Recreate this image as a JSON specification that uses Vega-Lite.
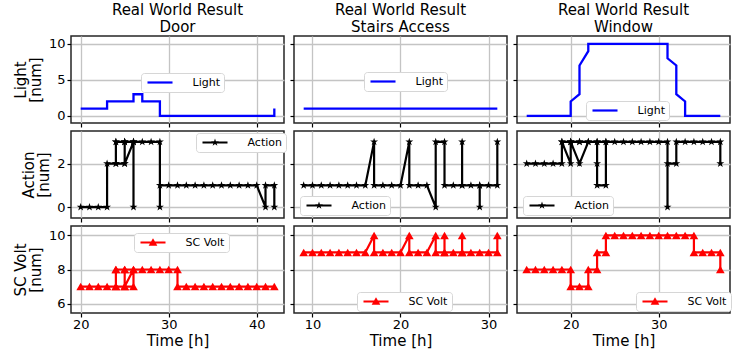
{
"$schema":"https://vega.github.io/schema/vega-lite/v6.json",
"padding":{"left":12,"top":2,"right":5,"bottom":2},
"background":"white",
"columns":3,
"spacing":{"row":8,"column":10},
"bounds":"flush",
"resolve":{"scale":{"color":"independent","x":"independent","y":"independent"},"legend":{"color":"independent"}},
"config":{
 "font":"DejaVu Sans",
 "view":{"stroke":"#262626","strokeWidth":1.5},
 "axis":{"labelFont":"DejaVu Sans","labelFontSize":13,"labelColor":"#000","tickColor":"#000","tickSize":4,"tickWidth":1.2,"domain":false,"grid":true,"gridColor":"#c4c4c4","gridWidth":1.3,"titleFont":"DejaVu Sans","titleFontSize":15,"titleFontWeight":"normal","titleColor":"#000","labelPadding":2},
 "axisY":{"titlePadding":5,"titleLineHeight":15},
 "axisX":{"titlePadding":2,"labelPadding":1},
 "legend":{"labelFont":"DejaVu Sans","labelFontSize":11,"labelColor":"#000","fillColor":"#ffffff","strokeColor":"#d6d6d6","cornerRadius":3,"padding":4},
 "title":{"font":"DejaVu Sans","fontSize":15,"fontWeight":"normal","lineHeight":17,"offset":1,"baseline":"alphabetic","color":"#000"}
},
"datasets":{
 "lightDoor":[{"t":20,"v":1,"s":0},{"t":21,"v":1,"s":1},{"t":22,"v":1,"s":2},{"t":23,"v":1,"s":3},{"t":23,"v":2,"s":4},{"t":24,"v":2,"s":5},{"t":25,"v":2,"s":6},{"t":26,"v":2,"s":7},{"t":26,"v":3,"s":8},{"t":27,"v":3,"s":9},{"t":27,"v":2,"s":10},{"t":28,"v":2,"s":11},{"t":29,"v":2,"s":12},{"t":29,"v":0,"s":13},{"t":30,"v":0,"s":14},{"t":31,"v":0,"s":15},{"t":32,"v":0,"s":16},{"t":33,"v":0,"s":17},{"t":34,"v":0,"s":18},{"t":35,"v":0,"s":19},{"t":36,"v":0,"s":20},{"t":37,"v":0,"s":21},{"t":38,"v":0,"s":22},{"t":39,"v":0,"s":23},{"t":40,"v":0,"s":24},{"t":41,"v":0,"s":25},{"t":42,"v":0,"s":26},{"t":42,"v":1,"s":27}],
 "lightStairs":[{"t":9,"v":1,"s":0},{"t":10,"v":1,"s":1},{"t":11,"v":1,"s":2},{"t":12,"v":1,"s":3},{"t":13,"v":1,"s":4},{"t":14,"v":1,"s":5},{"t":15,"v":1,"s":6},{"t":16,"v":1,"s":7},{"t":17,"v":1,"s":8},{"t":18,"v":1,"s":9},{"t":19,"v":1,"s":10},{"t":20,"v":1,"s":11},{"t":21,"v":1,"s":12},{"t":22,"v":1,"s":13},{"t":23,"v":1,"s":14},{"t":24,"v":1,"s":15},{"t":25,"v":1,"s":16},{"t":26,"v":1,"s":17},{"t":27,"v":1,"s":18},{"t":28,"v":1,"s":19},{"t":29,"v":1,"s":20},{"t":30,"v":1,"s":21},{"t":31,"v":1,"s":22}],
 "lightWindow":[{"t":15,"v":0,"s":0},{"t":16,"v":0,"s":1},{"t":17,"v":0,"s":2},{"t":18,"v":0,"s":3},{"t":19,"v":0,"s":4},{"t":20,"v":0,"s":5},{"t":20,"v":2,"s":6},{"t":21,"v":3,"s":7},{"t":21,"v":7,"s":8},{"t":22,"v":9,"s":9},{"t":22,"v":10,"s":10},{"t":23,"v":10,"s":11},{"t":24,"v":10,"s":12},{"t":25,"v":10,"s":13},{"t":26,"v":10,"s":14},{"t":27,"v":10,"s":15},{"t":28,"v":10,"s":16},{"t":29,"v":10,"s":17},{"t":30,"v":10,"s":18},{"t":31,"v":10,"s":19},{"t":31,"v":8,"s":20},{"t":32,"v":7,"s":21},{"t":32,"v":3,"s":22},{"t":33,"v":2,"s":23},{"t":33,"v":0,"s":24},{"t":34,"v":0,"s":25},{"t":35,"v":0,"s":26},{"t":36,"v":0,"s":27},{"t":37,"v":0,"s":28}],
 "actionDoor":[{"t":20,"v":0,"s":0},{"t":21,"v":0,"s":1},{"t":22,"v":0,"s":2},{"t":23,"v":0,"s":3},{"t":23,"v":2,"s":4},{"t":24,"v":2,"s":5},{"t":25,"v":2,"s":6},{"t":26,"v":3,"s":7},{"t":26,"v":0,"s":8},{"t":26,"v":3,"s":9},{"t":25,"v":3,"s":10},{"t":25,"v":2,"s":11},{"t":25,"v":3,"s":12},{"t":24,"v":3,"s":13},{"t":24,"v":2,"s":14},{"t":24,"v":3,"s":15},{"t":25,"v":3,"s":16},{"t":26,"v":3,"s":17},{"t":27,"v":3,"s":18},{"t":28,"v":3,"s":19},{"t":29,"v":3,"s":20},{"t":29,"v":0,"s":21},{"t":29,"v":1,"s":22},{"t":30,"v":1,"s":23},{"t":31,"v":1,"s":24},{"t":32,"v":1,"s":25},{"t":33,"v":1,"s":26},{"t":34,"v":1,"s":27},{"t":35,"v":1,"s":28},{"t":36,"v":1,"s":29},{"t":37,"v":1,"s":30},{"t":38,"v":1,"s":31},{"t":39,"v":1,"s":32},{"t":40,"v":1,"s":33},{"t":41,"v":0,"s":34},{"t":41,"v":1,"s":35},{"t":42,"v":1,"s":36},{"t":42,"v":0,"s":37}],
 "actionStairs":[{"t":9,"v":1,"s":0},{"t":10,"v":1,"s":1},{"t":11,"v":1,"s":2},{"t":12,"v":1,"s":3},{"t":13,"v":1,"s":4},{"t":14,"v":1,"s":5},{"t":15,"v":1,"s":6},{"t":16,"v":1,"s":7},{"t":17,"v":3,"s":8},{"t":17,"v":1,"s":9},{"t":18,"v":1,"s":10},{"t":19,"v":1,"s":11},{"t":20,"v":1,"s":12},{"t":21,"v":3,"s":13},{"t":21,"v":1,"s":14},{"t":22,"v":1,"s":15},{"t":23,"v":1,"s":16},{"t":24,"v":0,"s":17},{"t":24,"v":3,"s":18},{"t":25,"v":3,"s":19},{"t":25,"v":1,"s":20},{"t":26,"v":1,"s":21},{"t":27,"v":1,"s":22},{"t":27,"v":3,"s":23},{"t":27,"v":1,"s":24},{"t":28,"v":1,"s":25},{"t":29,"v":1,"s":26},{"t":29,"v":0,"s":27},{"t":29,"v":1,"s":28},{"t":30,"v":1,"s":29},{"t":31,"v":1,"s":30},{"t":31,"v":3,"s":31}],
 "actionWindow":[{"t":15,"v":2,"s":0},{"t":16,"v":2,"s":1},{"t":17,"v":2,"s":2},{"t":18,"v":2,"s":3},{"t":19,"v":2,"s":4},{"t":19,"v":3,"s":5},{"t":20,"v":2,"s":6},{"t":20,"v":3,"s":7},{"t":21,"v":2,"s":8},{"t":22,"v":3,"s":9},{"t":21,"v":3,"s":10},{"t":20,"v":3,"s":11},{"t":19,"v":3,"s":12},{"t":20,"v":3,"s":13},{"t":21,"v":3,"s":14},{"t":22,"v":3,"s":15},{"t":23,"v":3,"s":16},{"t":23,"v":2,"s":17},{"t":23,"v":1,"s":18},{"t":24,"v":1,"s":19},{"t":24,"v":3,"s":20},{"t":23,"v":3,"s":21},{"t":24,"v":3,"s":22},{"t":25,"v":3,"s":23},{"t":26,"v":3,"s":24},{"t":27,"v":3,"s":25},{"t":28,"v":3,"s":26},{"t":29,"v":3,"s":27},{"t":30,"v":3,"s":28},{"t":31,"v":3,"s":29},{"t":31,"v":0,"s":30},{"t":31,"v":2,"s":31},{"t":32,"v":2,"s":32},{"t":32,"v":3,"s":33},{"t":33,"v":3,"s":34},{"t":34,"v":3,"s":35},{"t":35,"v":3,"s":36},{"t":36,"v":3,"s":37},{"t":37,"v":3,"s":38},{"t":37,"v":2,"s":39}],
 "voltDoor":[{"t":20,"v":7,"s":0},{"t":21,"v":7,"s":1},{"t":22,"v":7,"s":2},{"t":23,"v":7,"s":3},{"t":24,"v":7,"s":4},{"t":25,"v":7,"s":5},{"t":26,"v":7,"s":6},{"t":26,"v":8,"s":7},{"t":25,"v":7,"s":8},{"t":25,"v":8,"s":9},{"t":24,"v":8,"s":10},{"t":24,"v":7,"s":11},{"t":24,"v":8,"s":12},{"t":25,"v":8,"s":13},{"t":26,"v":8,"s":14},{"t":27,"v":8,"s":15},{"t":28,"v":8,"s":16},{"t":29,"v":8,"s":17},{"t":30,"v":8,"s":18},{"t":31,"v":8,"s":19},{"t":31,"v":7,"s":20},{"t":32,"v":7,"s":21},{"t":33,"v":7,"s":22},{"t":34,"v":7,"s":23},{"t":35,"v":7,"s":24},{"t":36,"v":7,"s":25},{"t":37,"v":7,"s":26},{"t":38,"v":7,"s":27},{"t":39,"v":7,"s":28},{"t":40,"v":7,"s":29},{"t":41,"v":7,"s":30},{"t":42,"v":7,"s":31}],
 "voltStairs":[{"t":9,"v":9,"s":0},{"t":10,"v":9,"s":1},{"t":11,"v":9,"s":2},{"t":12,"v":9,"s":3},{"t":13,"v":9,"s":4},{"t":14,"v":9,"s":5},{"t":15,"v":9,"s":6},{"t":16,"v":9,"s":7},{"t":17,"v":10,"s":8},{"t":17,"v":9,"s":9},{"t":18,"v":9,"s":10},{"t":19,"v":9,"s":11},{"t":20,"v":9,"s":12},{"t":21,"v":10,"s":13},{"t":21,"v":9,"s":14},{"t":22,"v":9,"s":15},{"t":23,"v":9,"s":16},{"t":24,"v":10,"s":17},{"t":24,"v":9,"s":18},{"t":25,"v":9,"s":19},{"t":25,"v":10,"s":20},{"t":25,"v":9,"s":21},{"t":26,"v":9,"s":22},{"t":27,"v":9,"s":23},{"t":27,"v":10,"s":24},{"t":27,"v":9,"s":25},{"t":28,"v":9,"s":26},{"t":29,"v":9,"s":27},{"t":30,"v":9,"s":28},{"t":31,"v":9,"s":29},{"t":31,"v":10,"s":30}],
 "voltWindow":[{"t":15,"v":8,"s":0},{"t":16,"v":8,"s":1},{"t":17,"v":8,"s":2},{"t":18,"v":8,"s":3},{"t":19,"v":8,"s":4},{"t":20,"v":8,"s":5},{"t":20,"v":7,"s":6},{"t":21,"v":7,"s":7},{"t":22,"v":7,"s":8},{"t":22,"v":8,"s":9},{"t":23,"v":8,"s":10},{"t":23,"v":9,"s":11},{"t":24,"v":9,"s":12},{"t":24,"v":10,"s":13},{"t":25,"v":10,"s":14},{"t":26,"v":10,"s":15},{"t":27,"v":10,"s":16},{"t":28,"v":10,"s":17},{"t":29,"v":10,"s":18},{"t":30,"v":10,"s":19},{"t":31,"v":10,"s":20},{"t":32,"v":10,"s":21},{"t":33,"v":10,"s":22},{"t":34,"v":10,"s":23},{"t":34,"v":9,"s":24},{"t":35,"v":9,"s":25},{"t":36,"v":9,"s":26},{"t":37,"v":9,"s":27},{"t":37,"v":8,"s":28}]
},
"concat":[
 {"width":213,"height":87,"title":{"text":["Real World Result","Door"]},"data":{"name":"lightDoor"},
  "mark":{"type":"line","strokeWidth":2.3},
  "encoding":{
   "x":{"field":"t","type":"quantitative","scale":{"domain":[18.9,43.1],"nice":false,"zero":false},"axis":{"values":[20,30,40],"labels":false,"title":null}},
   "y":{"field":"v","type":"quantitative","scale":{"domain":[-1,11.1],"nice":false,"zero":false},"axis":{"values":[0,5,10],"title":["Light","[num]"]}},
   "order":{"field":"s","type":"quantitative"},
   "color":{"datum":"Light","type":"nominal","scale":{"range":["#0000ff"]},"legend":{"title":null,"orient":"none","legendX":70,"legendY":37,"symbolType":"M-4.17,0H4.17","symbolSize":36,"symbolOffset":9.5,"labelOffset":27,"symbolStrokeWidth":2.2}}}},
 {"width":213,"height":87,"title":{"text":["Real World Result","Stairs Access"]},"data":{"name":"lightStairs"},
  "mark":{"type":"line","strokeWidth":2.3},
  "encoding":{
   "x":{"field":"t","type":"quantitative","scale":{"domain":[7.9,32.1],"nice":false,"zero":false},"axis":{"values":[10,20,30],"labels":false,"title":null}},
   "y":{"field":"v","type":"quantitative","scale":{"domain":[-1,11.1],"nice":false,"zero":false},"axis":{"values":[0,5,10],"labels":false,"title":null}},
   "order":{"field":"s","type":"quantitative"},
   "color":{"datum":"Light","type":"nominal","scale":{"range":["#0000ff"]},"legend":{"title":null,"orient":"none","legendX":70,"legendY":36,"symbolType":"M-4.17,0H4.17","symbolSize":36,"symbolOffset":9.5,"labelOffset":27,"symbolStrokeWidth":2.2}}}},
 {"width":213,"height":87,"title":{"text":["Real World Result","Window"]},"data":{"name":"lightWindow"},
  "mark":{"type":"line","strokeWidth":2.3},
  "encoding":{
   "x":{"field":"t","type":"quantitative","scale":{"domain":[13.9,38.1],"nice":false,"zero":false},"axis":{"values":[20,30],"labels":false,"title":null}},
   "y":{"field":"v","type":"quantitative","scale":{"domain":[-1,11.1],"nice":false,"zero":false},"axis":{"values":[0,5,10],"labels":false,"title":null}},
   "order":{"field":"s","type":"quantitative"},
   "color":{"datum":"Light","type":"nominal","scale":{"range":["#0000ff"]},"legend":{"title":null,"orient":"none","legendX":69,"legendY":65,"symbolType":"M-4.17,0H4.17","symbolSize":36,"symbolOffset":9.5,"labelOffset":27,"symbolStrokeWidth":2.2}}}},
 {"width":213,"height":87,"data":{"name":"actionDoor"},
  "encoding":{
   "x":{"field":"t","type":"quantitative","scale":{"domain":[18.9,43.1],"nice":false,"zero":false},"axis":{"values":[20,30,40],"labels":false,"title":null}},
   "y":{"field":"v","type":"quantitative","scale":{"domain":[-0.5,3.5],"nice":false,"zero":false},"axis":{"values":[0,2],"title":["Action","[num]"]}},
   "order":{"field":"s","type":"quantitative"}},
  "layer":[
   {"mark":{"type":"line","color":"#000000","strokeWidth":2.2},"encoding":{}},
   {"mark":{"type":"point","shape":"M0,-1L0.2245,-0.309L0.951,-0.309L0.363,0.118L0.588,0.809L0,0.382L-0.588,0.809L-0.363,0.118L-0.951,-0.309L-0.2245,-0.309Z","filled":true,"size":70,"opacity":1},
    "encoding":{"color":{"datum":"Action","type":"nominal","scale":{"range":["#000000"]},"legend":{"title":null,"orient":"none","legendX":125,"legendY":2,"symbolType":"M-4.17,-0.33H4.17V0.33H-4.17Z M0,-1.35L0.303,-0.417L1.284,-0.417L0.49,0.159L0.794,1.092L0,0.516L-0.794,1.092L-0.49,0.159L-1.284,-0.417L-0.303,-0.417Z","symbolSize":36,"symbolOffset":9.5,"labelOffset":27,"symbolStrokeWidth":0}}}}]},
 {"width":213,"height":87,"data":{"name":"actionStairs"},
  "encoding":{
   "x":{"field":"t","type":"quantitative","scale":{"domain":[7.9,32.1],"nice":false,"zero":false},"axis":{"values":[10,20,30],"labels":false,"title":null}},
   "y":{"field":"v","type":"quantitative","scale":{"domain":[-0.5,3.5],"nice":false,"zero":false},"axis":{"values":[0,2],"labels":false,"title":null}},
   "order":{"field":"s","type":"quantitative"}},
  "layer":[
   {"mark":{"type":"line","color":"#000000","strokeWidth":2.2},"encoding":{}},
   {"mark":{"type":"point","shape":"M0,-1L0.2245,-0.309L0.951,-0.309L0.363,0.118L0.588,0.809L0,0.382L-0.588,0.809L-0.363,0.118L-0.951,-0.309L-0.2245,-0.309Z","filled":true,"size":70,"opacity":1},
    "encoding":{"color":{"datum":"Action","type":"nominal","scale":{"range":["#000000"]},"legend":{"title":null,"orient":"none","legendX":6,"legendY":65,"symbolType":"M-4.17,-0.33H4.17V0.33H-4.17Z M0,-1.35L0.303,-0.417L1.284,-0.417L0.49,0.159L0.794,1.092L0,0.516L-0.794,1.092L-0.49,0.159L-1.284,-0.417L-0.303,-0.417Z","symbolSize":36,"symbolOffset":9.5,"labelOffset":27,"symbolStrokeWidth":0}}}}]},
 {"width":213,"height":87,"data":{"name":"actionWindow"},
  "encoding":{
   "x":{"field":"t","type":"quantitative","scale":{"domain":[13.9,38.1],"nice":false,"zero":false},"axis":{"values":[20,30],"labels":false,"title":null}},
   "y":{"field":"v","type":"quantitative","scale":{"domain":[-0.5,3.5],"nice":false,"zero":false},"axis":{"values":[0,2],"labels":false,"title":null}},
   "order":{"field":"s","type":"quantitative"}},
  "layer":[
   {"mark":{"type":"line","color":"#000000","strokeWidth":2.2},"encoding":{}},
   {"mark":{"type":"point","shape":"M0,-1L0.2245,-0.309L0.951,-0.309L0.363,0.118L0.588,0.809L0,0.382L-0.588,0.809L-0.363,0.118L-0.951,-0.309L-0.2245,-0.309Z","filled":true,"size":70,"opacity":1},
    "encoding":{"color":{"datum":"Action","type":"nominal","scale":{"range":["#000000"]},"legend":{"title":null,"orient":"none","legendX":6,"legendY":65,"symbolType":"M-4.17,-0.33H4.17V0.33H-4.17Z M0,-1.35L0.303,-0.417L1.284,-0.417L0.49,0.159L0.794,1.092L0,0.516L-0.794,1.092L-0.49,0.159L-1.284,-0.417L-0.303,-0.417Z","symbolSize":36,"symbolOffset":9.5,"labelOffset":27,"symbolStrokeWidth":0}}}}]},
 {"width":213,"height":87,"data":{"name":"voltDoor"},
  "encoding":{
   "x":{"field":"t","type":"quantitative","scale":{"domain":[18.9,43.1],"nice":false,"zero":false},"axis":{"values":[20,30,40],"title":"Time [h]"}},
   "y":{"field":"v","type":"quantitative","scale":{"domain":[5.45,10.55],"nice":false,"zero":false},"axis":{"values":[6,8,10],"title":["SC Volt","[num]"]}},
   "order":{"field":"s","type":"quantitative"}},
  "layer":[
   {"mark":{"type":"line","color":"#ff0000","strokeWidth":2.2},"encoding":{}},
   {"mark":{"type":"point","shape":"triangle-up","filled":true,"size":75,"opacity":1},
    "encoding":{"color":{"datum":"SC Volt","type":"nominal","scale":{"range":["#ff0000"]},"legend":{"title":null,"orient":"none","legendX":63,"legendY":7,"symbolType":"M-4.17,-0.33H4.17V0.33H-4.17Z M0,-1.45L1.45,1.05L-1.45,1.05Z","symbolSize":36,"symbolOffset":9.5,"labelOffset":27,"symbolStrokeWidth":0}}}}]},
 {"width":213,"height":87,"data":{"name":"voltStairs"},
  "encoding":{
   "x":{"field":"t","type":"quantitative","scale":{"domain":[7.9,32.1],"nice":false,"zero":false},"axis":{"values":[10,20,30],"title":"Time [h]"}},
   "y":{"field":"v","type":"quantitative","scale":{"domain":[5.45,10.55],"nice":false,"zero":false},"axis":{"values":[6,8,10],"labels":false,"title":null}},
   "order":{"field":"s","type":"quantitative"}},
  "layer":[
   {"mark":{"type":"line","color":"#ff0000","strokeWidth":2.2},"encoding":{}},
   {"mark":{"type":"point","shape":"triangle-up","filled":true,"size":75,"opacity":1},
    "encoding":{"color":{"datum":"SC Volt","type":"nominal","scale":{"range":["#ff0000"]},"legend":{"title":null,"orient":"none","legendX":63,"legendY":66,"symbolType":"M-4.17,-0.33H4.17V0.33H-4.17Z M0,-1.45L1.45,1.05L-1.45,1.05Z","symbolSize":36,"symbolOffset":9.5,"labelOffset":27,"symbolStrokeWidth":0}}}}]},
 {"width":213,"height":87,"data":{"name":"voltWindow"},
  "encoding":{
   "x":{"field":"t","type":"quantitative","scale":{"domain":[13.9,38.1],"nice":false,"zero":false},"axis":{"values":[20,30],"title":"Time [h]"}},
   "y":{"field":"v","type":"quantitative","scale":{"domain":[5.45,10.55],"nice":false,"zero":false},"axis":{"values":[6,8,10],"labels":false,"title":null}},
   "order":{"field":"s","type":"quantitative"}},
  "layer":[
   {"mark":{"type":"line","color":"#ff0000","strokeWidth":2.2},"encoding":{}},
   {"mark":{"type":"point","shape":"triangle-up","filled":true,"size":75,"opacity":1},
    "encoding":{"color":{"datum":"SC Volt","type":"nominal","scale":{"range":["#ff0000"]},"legend":{"title":null,"orient":"none","legendX":119,"legendY":66,"symbolType":"M-4.17,-0.33H4.17V0.33H-4.17Z M0,-1.45L1.45,1.05L-1.45,1.05Z","symbolSize":36,"symbolOffset":9.5,"labelOffset":27,"symbolStrokeWidth":0}}}}]}
]
}
